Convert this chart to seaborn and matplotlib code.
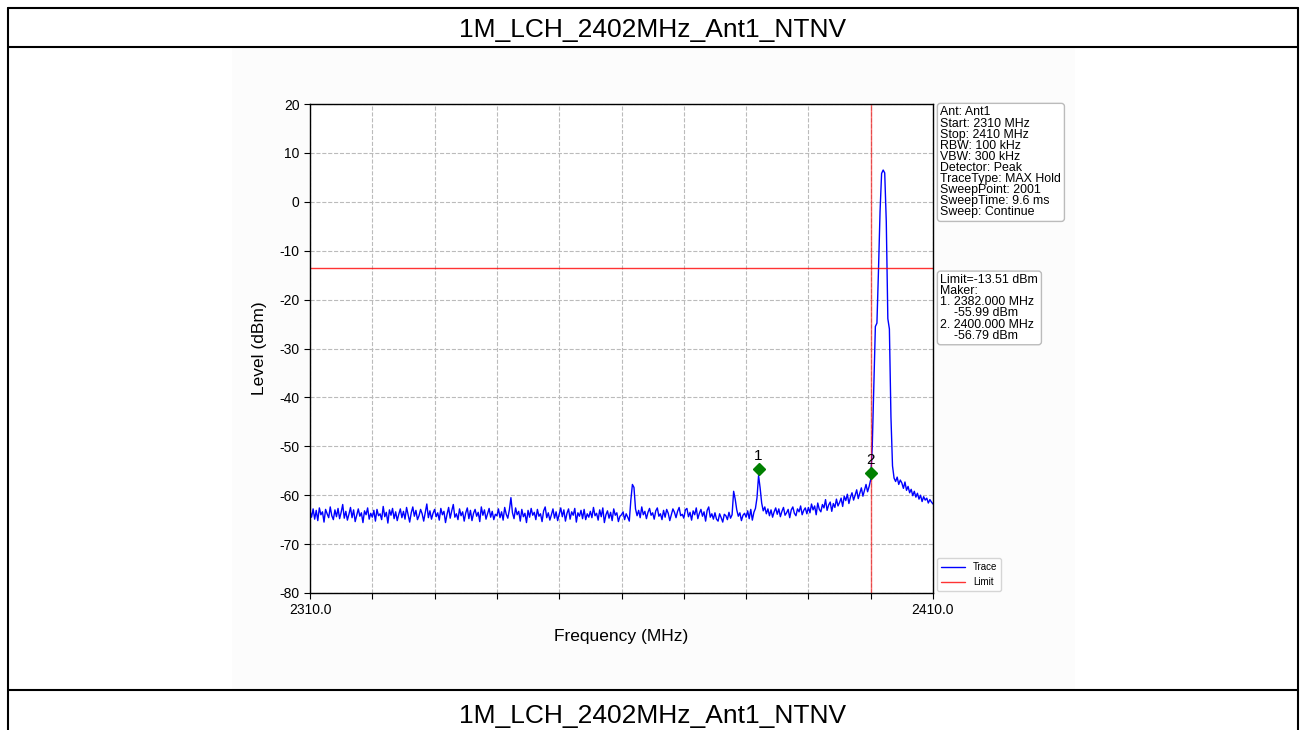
import numpy as np
import matplotlib.pyplot as plt
import matplotlib.transforms as mtransforms
from matplotlib.lines import Line2D
from matplotlib.patches import Rectangle
import seaborn as sns

sns.set_style("ticks")
plt.rcParams['font.family'] = ['Liberation Sans', 'DejaVu Sans']
plt.rcParams['axes.unicode_minus'] = False
plt.rcParams['text.color'] = 'black'
plt.rcParams['axes.labelcolor'] = 'black'
plt.rcParams['xtick.color'] = 'black'
plt.rcParams['ytick.color'] = 'black'

title = "1M_LCH_2402MHz_Ant1_NTNV"

# スペクトラム (2310-2410 MHz, 0.25 MHz 間隔で読み取り)
freq_start, freq_stop, freq_step = 2310.0, 2410.0, 0.25
level = [
    -63.2, -64.5, -62.8, -64.9, -63.1, -65.2, -62.6, -64.0, -63.4, -65.5, -62.9, -63.8, -64.6, -62.4, -64.2, -65.0, -63.0, -64.4, -62.7, -64.8,
    -63.5, -61.9, -64.7, -63.3, -65.1, -63.9, -62.5, -64.6, -63.0, -65.4, -64.1, -62.8, -64.3, -63.6, -65.6, -63.2, -64.0, -62.6, -64.9, -63.7,
    -64.5, -63.1, -65.3, -62.9, -64.2, -63.8, -65.0, -62.3, -64.4, -63.5, -65.7, -63.0, -64.1, -62.7, -64.8, -63.4, -65.2, -63.9, -62.8, -64.6,
    -63.3, -64.9, -62.5, -64.0, -65.5, -63.6, -62.4, -64.3, -63.1, -65.0, -64.2, -62.9, -63.8, -65.3, -63.5, -61.8, -64.6, -63.2, -64.9, -63.7,
    -62.9, -64.4, -63.6, -65.1, -62.7, -64.0, -63.3, -65.6, -63.9, -62.5, -64.7, -63.2, -61.9, -64.5, -63.8, -65.0, -62.8, -64.2, -63.4, -65.3,
    -63.6, -62.6, -64.8, -63.1, -65.2, -63.7, -62.9, -64.3, -63.5, -65.4, -62.4, -64.1, -63.0, -64.9, -63.8, -62.7, -64.5, -63.3, -65.0, -63.9,
    -64.2, -62.8, -64.6, -63.4, -65.1, -62.5, -63.9, -64.7, -63.0, -60.5, -63.6, -64.8, -62.6, -64.0, -63.3, -65.3, -62.9, -64.4, -63.7, -65.6,
    -63.1, -64.5, -62.7, -64.1, -63.5, -65.0, -62.9, -64.3, -63.8, -65.4, -63.2, -62.4, -64.6, -63.6, -65.1, -64.0, -62.8, -64.7, -63.4, -65.2,
    -63.9, -62.6, -64.4, -63.0, -65.3, -63.7, -62.8, -64.9, -63.4, -64.1, -62.7, -65.5, -63.6, -64.3, -63.1, -64.8, -62.9, -65.0, -63.8, -64.5,
    -63.3, -64.6, -62.5, -64.2, -63.7, -65.1, -63.0, -64.4, -62.6, -65.6, -64.0, -63.2, -64.7, -63.5, -65.2, -62.8, -64.1, -63.6, -65.4, -64.3,
    -64.0, -63.4, -65.0, -63.8, -64.5, -65.3, -61.0, -57.8, -58.4, -62.8, -64.2, -63.1, -64.6, -62.4, -64.0, -63.3, -64.8, -63.5, -62.7, -64.1,
    -63.6, -64.9, -63.2, -62.6, -64.3, -63.8, -65.0, -63.1, -64.5, -62.9, -63.7, -65.2, -64.0, -62.8, -63.5, -64.6, -63.3, -62.5, -64.2, -63.9,
    -64.7, -63.0, -62.7, -64.4, -63.5, -65.1, -63.2, -64.0, -62.6, -64.8, -63.7, -62.9, -64.3, -63.4, -65.3, -63.1, -62.4, -64.5, -63.8, -64.9,
    -63.6, -64.9, -65.3, -63.8, -64.6, -65.5, -63.9, -64.2, -65.0, -63.5, -64.7, -64.0, -59.2, -60.8, -63.0, -64.3, -63.6, -65.2, -64.1, -63.7,
    -64.5, -63.2, -64.8, -62.9, -65.1, -63.5, -62.7, -60.5, -56.0, -58.5, -61.6, -63.2, -62.4, -63.8, -62.8, -64.2, -63.0, -64.5, -63.4, -62.6,
    -63.9, -62.8, -64.4, -63.3, -62.5, -64.1, -63.6, -62.9, -64.6, -63.0, -62.4, -63.7, -64.2, -62.8, -63.4, -62.2, -64.0, -63.1, -62.6, -63.8,
    -62.5, -63.6, -61.8, -63.0, -62.2, -64.0, -61.6, -62.9, -63.4, -61.9, -62.6, -60.9, -63.1, -62.0, -61.4, -63.3, -61.7, -62.5, -60.8, -62.2,
    -61.5, -60.6, -62.3, -60.2, -61.1, -59.8, -61.7, -60.4, -59.5, -61.0, -60.0, -58.9, -60.7, -59.6, -58.5, -60.2, -59.0, -57.8, -59.3, -58.2,
    -56.8, -50.0, -38.0, -25.5, -24.8, -14.0, -2.0, 5.8, 6.5, 5.9, -4.0, -23.9, -26.0, -44.0, -54.0, -56.5, -57.2, -56.3, -57.8, -56.9,
    -57.5, -58.6, -57.3, -59.0, -58.2, -59.5, -58.8, -60.1, -59.2, -60.4, -59.6, -60.8, -60.0, -61.3, -60.3, -61.0, -60.6, -61.6, -60.9, -61.4,
    -61.8,
]
freq = np.arange(freq_start, freq_stop + freq_step / 2, freq_step)

limit_level = -13.51
limit_freq = 2400.0

marker_freq = [2382.0, 2400.0]
marker_level = [-55.99, -56.79]
marker_name = ["1", "2"]

info_lines = ["Ant: Ant1", "Start: 2310 MHz", "Stop: 2410 MHz", "RBW: 100 kHz",
              "VBW: 300 kHz", "Detector: Peak", "TraceType: MAX Hold",
              "SweepPoint: 2001", "SweepTime: 9.6 ms", "Sweep: Continue"]
marker_lines = ["Limit=-13.51 dBm", "Maker:",
                "1. 2382.000 MHz", "    -55.99 dBm",
                "2. 2400.000 MHz", "    -56.79 dBm"]

W, H = 1306, 730
fig = plt.figure(figsize=(W / 100, H / 100), dpi=100)
fig.patch.set_facecolor("white")

# 外枠とタイトル
fig.add_artist(Rectangle((232 / W, 1 - 690 / H), (1075 - 232) / W, (690 - 48) / H,
                         transform=fig.transFigure, facecolor="#fcfcfc", edgecolor="none", zorder=0))
for y in [8, 47, 690]:
    fig.add_artist(Line2D([8 / W, 1298 / W], [1 - y / H, 1 - y / H], color="black", lw=1.5))
for x in [8, 1298]:
    fig.add_artist(Line2D([x / W, x / W], [1 - 8 / H, 0], color="black", lw=1.5))
fig.text(0.5, 1 - 30 / H, title, ha="center", va="center", fontsize=19)
fig.text(0.5, 1 - 716 / H, title, ha="center", va="center", fontsize=19)

ax = fig.add_axes([310 / W, 1 - 593 / H, 623 / W, 489 / H])
ax.set_facecolor("white")

sns.lineplot(x=freq, y=level, ax=ax, color="blue", lw=1.0, label="Trace")
ax.axhline(limit_level, color="red", lw=1.0, alpha=0.8, label="Limit")
ax.axvline(limit_freq, color="red", lw=1.0, alpha=0.6)

# マーカー
offset = mtransforms.offset_copy(ax.transData, fig=fig, x=0, y=7, units="dots")
ax.plot(marker_freq, marker_level, linestyle="none", marker="D", color="green",
        markersize=6, transform=offset, zorder=5)
for f, lv, nm in zip(marker_freq, marker_level, marker_name):
    ax.annotate(nm, (f, lv), xytext=(0, 20), textcoords="offset pixels",
                ha="center", va="center", fontsize=11)

ax.set_xlim(freq_start, freq_stop)
ax.set_ylim(-80, 20)
ax.set_yticks(np.arange(-80, 21, 10))
xt = np.arange(2310, 2411, 10)
ax.set_xticks(xt)
ax.set_xticklabels(["2310.0"] + [""] * (len(xt) - 2) + ["2410.0"])
ax.tick_params(labelsize=10, length=4, color="black")
ax.grid(True, linestyle="--", color="#bbbbbb", lw=0.8)
for s in ax.spines.values():
    s.set_color("black")
    s.set_linewidth(1.0)

ax.set_xlabel("Frequency (MHz)", fontsize=12.5, labelpad=8)
ax.set_ylabel("Level (dBm)", fontsize=12.5, labelpad=9)

box = dict(boxstyle="round,pad=0.25", facecolor="white", edgecolor="#bbbbbb", lw=1)
ax.text(1.012, 0.995, "\n".join(info_lines), transform=ax.transAxes, ha="left", va="top",
        fontsize=8.9, linespacing=0.9, bbox=box)
ax.text(1.012, 0.652, "\n".join(marker_lines), transform=ax.transAxes, ha="left", va="top",
        fontsize=8.9, linespacing=0.9, bbox=box)

leg = ax.legend(loc="lower left", bbox_to_anchor=(1.003, 0.0), fontsize=7, frameon=True,
                handlelength=2.5, borderaxespad=0.2)
leg.get_frame().set_edgecolor("#cccccc")

fig.savefig("out.png", dpi=100)
